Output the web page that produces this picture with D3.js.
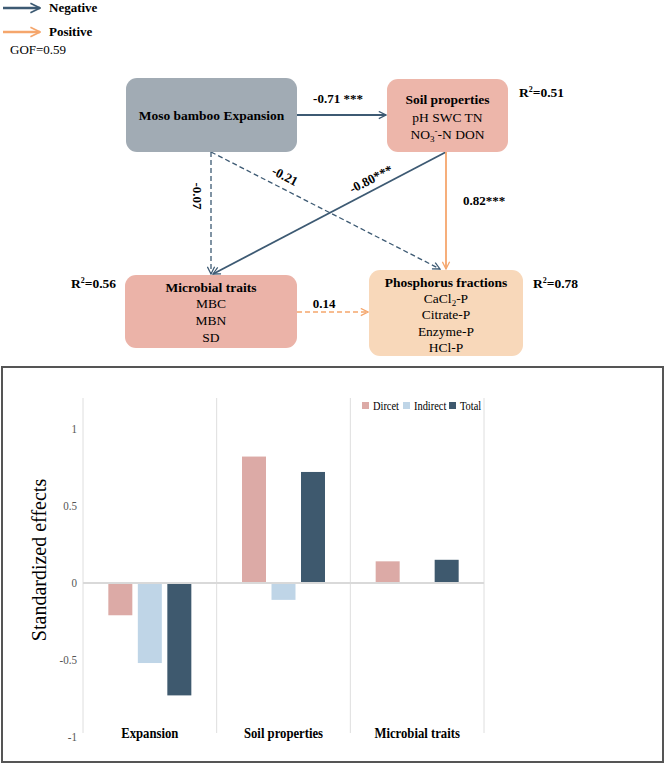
<!DOCTYPE html>
<html>
<head>
<meta charset="utf-8">
<script src="https://cdn.jsdelivr.net/npm/d3@7"></script>
<style>
body { margin: 0; background: #fff; }
text { font-family: "Liberation Serif", "Times New Roman", "DejaVu Serif", serif; }
</style>
</head>
<body>
<svg id="chart" width="665" height="765"></svg>
<script>
// bar chart data
var categories = ["Expansion", "Soil properties", "Microbial traits"];
var seriesNames = ["Dircet", "Indirect", "Total"];
var direct = [-0.21, 0.82, 0.14];
var indirect = [-0.52, -0.11, 0];
var total = [-0.73, 0.72, 0.15];
var yTicks = [-1, -0.5, 0, 0.5, 1];

// path diagram texts
var boxNames = ["Moso bamboo Expansion", "Soil properties", "Microbial traits", "Phosphorus fractions"];
var r2Labels = ["R²=0.51", "R²=0.56", "R²=0.78"];
var pathLabels = ["-0.71 ***", "-0.07", "-0.21", "-0.80***", "0.82***", "0.14"];

var NEG = "#3d5a73", POS = "#f5a66c";
var FONT = "'Liberation Serif', 'Times New Roman', serif";
var svg = d3.select("#chart").attr("font-family", FONT);

// arrow markers
var defs = svg.append("defs");
function marker(id, color, size) {
    defs.append("marker")
        .attr("id", id)
        .attr("viewBox", "0 0 10 10")
        .attr("refX", 9).attr("refY", 5)
        .attr("markerWidth", size).attr("markerHeight", size)
        .attr("markerUnits", "userSpaceOnUse")
        .attr("orient", "auto")
        .append("path")
        .attr("d", "M1,1 L9,5 L1,9")
        .attr("fill", "none")
        .attr("stroke", color)
        .attr("stroke-width", 1.4);
}
marker("negArrow", NEG, 9);
marker("posArrow", POS, 9);
marker("negArrowBig", NEG, 12);
marker("posArrowBig", POS, 12);

// legend
svg.append("line").attr("x1", 3).attr("y1", 8).attr("x2", 40).attr("y2", 8)
    .attr("stroke", NEG).attr("stroke-width", 2.5).attr("marker-end", "url(#negArrowBig)");
svg.append("line").attr("x1", 3).attr("y1", 32).attr("x2", 40).attr("y2", 32)
    .attr("stroke", POS).attr("stroke-width", 2.5).attr("marker-end", "url(#posArrowBig)");
svg.append("text").attr("x", 49).attr("y", 12).attr("font-weight", "bold").attr("font-size", 13).text("Negative");
svg.append("text").attr("x", 49).attr("y", 36).attr("font-weight", "bold").attr("font-size", 13).text("Positive");
svg.append("text").attr("x", 10).attr("y", 54).attr("font-size", 13).text("GOF=0.59");

// boxes
var diag = svg.append("g");
var boxes = [
    {x: 126, y: 78, w: 171, h: 74, fill: "#a1abb4"},
    {x: 387, y: 79, w: 121, h: 73, fill: "#edb6aa"},
    {x: 125, y: 275, w: 172, h: 73, fill: "#ebb3a8"},
    {x: 369, y: 270, w: 154, h: 86, fill: "#f8d8ba"}
];

// path lines first (under boxes)
function link(x1, y1, x2, y2, color, dashed, mk) {
    diag.append("line")
        .attr("x1", x1).attr("y1", y1).attr("x2", x2).attr("y2", y2)
        .attr("stroke", color).attr("stroke-width", dashed ? 1.3 : 1.8)
        .attr("stroke-dasharray", dashed ? "5,3" : null)
        .attr("marker-end", "url(#" + mk + ")");
}
link(297, 115, 386, 115, NEG, false, "negArrow");
link(211, 152, 211, 274, NEG, true, "negArrow");
link(211, 152, 440, 269, NEG, true, "negArrow");
link(446, 152, 213, 274, NEG, false, "negArrow");
link(446, 152, 446, 269, POS, false, "posArrow");
link(297, 312, 368, 312, POS, true, "posArrow");

diag.selectAll("rect.box").data(boxes).enter().append("rect")
    .attr("class", "box")
    .attr("x", function(d){ return d.x; })
    .attr("y", function(d){ return d.y; })
    .attr("width", function(d){ return d.w; })
    .attr("height", function(d){ return d.h; })
    .attr("rx", 11)
    .attr("fill", function(d){ return d.fill; });

function boxText(x, y, str, bold) {
    return diag.append("text").attr("x", x).attr("y", y)
        .attr("text-anchor", "middle").attr("font-size", 13.5)
        .attr("font-weight", bold ? "bold" : null).text(str);
}
boxText(447.5, 104, boxNames[1], true);
boxText(211.5, 120, boxNames[0], true);
boxText(447.5, 122, "pH SWC TN");
var no3 = diag.append("text").attr("x", 447.5).attr("y", 139)
    .attr("text-anchor", "middle").attr("font-size", 13.5);
no3.append("tspan").text("NO");
no3.append("tspan").attr("dy", 3).attr("font-size", 9).text("3");
no3.append("tspan").attr("dy", -8).attr("font-size", 9).text("-");
no3.append("tspan").attr("dy", 5).text("-N DON");

boxText(211, 292, boxNames[2], true);
boxText(211, 308, "MBC");
boxText(211, 325, "MBN");
boxText(211, 342, "SD");

boxText(446, 287, boxNames[3], true);
var cacl = diag.append("text").attr("x", 446).attr("y", 303)
    .attr("text-anchor", "middle").attr("font-size", 13.5);
cacl.append("tspan").text("CaCl");
cacl.append("tspan").attr("dy", 3).attr("font-size", 9).text("2");
cacl.append("tspan").attr("dy", -3).text("-P");
boxText(446, 319, "Citrate-P");
boxText(446, 336, "Enzyme-P");
boxText(446, 352, "HCl-P");

// R2 labels
function r2(x, y, str) {
    var t = diag.append("text").attr("x", x).attr("y", y).attr("font-size", 13.5).attr("font-weight", "bold");
    t.append("tspan").text("R");
    t.append("tspan").attr("dy", -5).attr("font-size", 8).text("2");
    t.append("tspan").attr("dy", 5).text(str.replace("R²", ""));
}
r2(519, 97, r2Labels[0]);
r2(71, 288, r2Labels[1]);
r2(533, 288, r2Labels[2]);

// path coefficients
function plab(x, y, str, rot) {
    diag.append("text").attr("transform", "translate(" + x + "," + y + ") rotate(" + rot + ")")
        .attr("text-anchor", "middle").attr("font-size", 13).attr("font-weight", "bold").text(str);
}
plab(338, 103, pathLabels[0], 0);
plab(193, 196, pathLabels[1], 90);
plab(283, 180, pathLabels[2], 27);
plab(373, 183, pathLabels[3], -27);
plab(484, 205, pathLabels[4], 0);
plab(324, 308, pathLabels[5], 0);

// ---- bar chart ----
svg.append("rect").attr("x", 2).attr("y", 367).attr("width", 661).attr("height", 395)
    .attr("fill", "none").attr("stroke", "#555").attr("stroke-width", 2);

var x0 = d3.scaleBand().domain(categories).range([83, 484]).padding(0);
var y = d3.scaleLinear().domain([-1, 1.2]).range([737, 398]);
var colors = ["#dcaaa6", "#bfd5e7", "#3e596e"];
var series = [direct, indirect, total];

var plot = svg.append("g");
// separators
var seps = [83].concat(categories.map(function(c){ return x0(c) + x0.bandwidth(); }));
plot.selectAll("line.sep").data(seps).enter().append("line")
    .attr("x1", function(d){ return d; }).attr("x2", function(d){ return d; })
    .attr("y1", y(1.2)).attr("y2", 733)
    .attr("stroke", "#dedede").attr("stroke-width", 1);

// y axis labels
plot.selectAll("text.ytick").data(yTicks).enter().append("text")
    .attr("transform", function(d){ return "translate(77," + (y(d) + 4) + ") scale(0.85,1)"; })
    .attr("text-anchor", "end").attr("font-size", 13).attr("fill", "#555")
    .text(function(d){ return String(d); });

svg.append("text").attr("transform", "translate(46,560) rotate(-90)")
    .attr("text-anchor", "middle").attr("font-size", 20).text("Standardized effects");

// bars
var barW = 24, step = 29.5;
series.forEach(function(vals, si) {
    plot.selectAll("rect.s" + si).data(vals).enter().append("rect")
        .attr("x", function(d, i){ return x0(categories[i]) + x0.bandwidth() / 2 + (si - 1) * step - barW / 2; })
        .attr("y", function(d){ return y(Math.max(0, d)); })
        .attr("width", barW)
        .attr("height", function(d){ return Math.abs(y(d) - y(0)); })
        .attr("fill", colors[si]);
});

// zero line
plot.append("line").attr("x1", 83).attr("x2", 484).attr("y1", y(0)).attr("y2", y(0))
    .attr("stroke", "#d9d9d9").attr("stroke-width", 2);

// category labels (narrow, as in the original)
plot.selectAll("text.cat").data(categories).enter().append("text")
    .attr("transform", function(d){ return "translate(" + (x0(d) + x0.bandwidth() / 2) + ",738) scale(0.82,1)"; })
    .attr("text-anchor", "middle")
    .attr("font-size", 15.5).attr("font-weight", "bold").text(function(d){ return d; });

// legend
var leg = plot.append("g").attr("transform", "translate(362,398)");
var legX = [0, 41, 87];
seriesNames.forEach(function(n, i) {
    leg.append("rect").attr("x", legX[i]).attr("y", 4).attr("width", 7).attr("height", 7).attr("fill", colors[i]);
    leg.append("text").attr("transform", "translate(" + (legX[i] + 11) + ",12) scale(0.8,1)")
        .attr("font-size", 13).text(n);
});
</script>
</body>
</html>
